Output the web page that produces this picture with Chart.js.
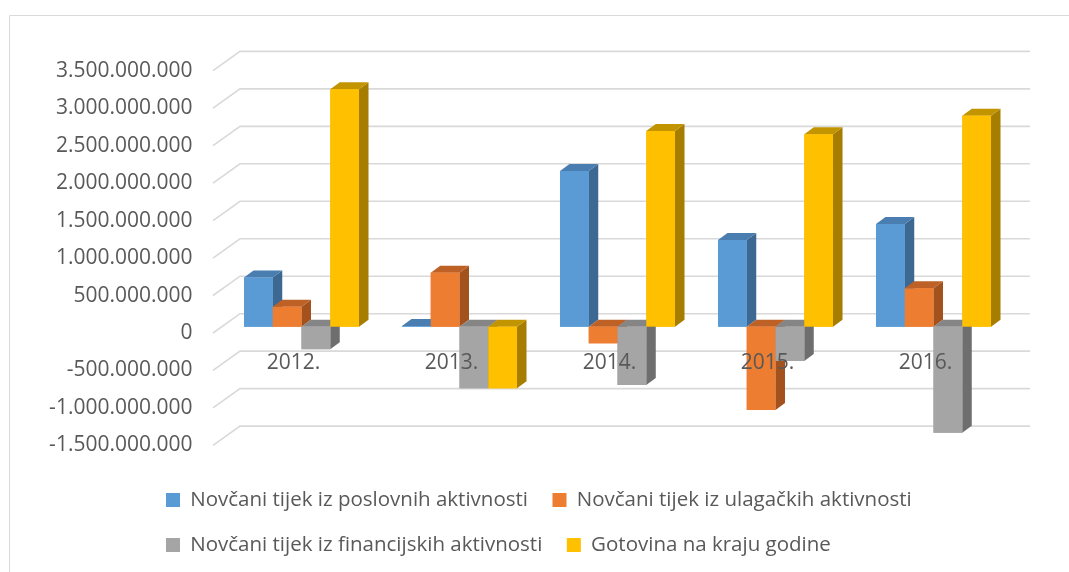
<!DOCTYPE html>
<html>
<head>
<meta charset="utf-8">
<script src="https://cdn.jsdelivr.net/npm/chart.js@4/dist/chart.umd.min.js"></script>
<style>
  body { margin: 0; background: #fff; }
  canvas { display: block; }
</style>
</head>
<body>
<canvas id="chart" width="1069" height="572"></canvas>
<script>
'use strict'

// Data

const years = ['2012.', '2013.', '2014.', '2015.', '2016.'];
const poslovne = [655000000, 8000000, 2078000000, 1157000000, 1370000000];
const ulagacke = [267000000, 721000000, -222000000, -1112000000, 512000000];
const financijske = [-300000000, -822000000, -778000000, -458000000, -1415000000];
const gotovina = [3168000000, -822000000, 2611000000, 2567000000, 2816000000];

const seriesNames = [
  'Novčani tijek iz poslovnih aktivnosti',
  'Novčani tijek iz ulagačkih aktivnosti',
  'Novčani tijek iz financijskih aktivnosti',
  'Gotovina na kraju godine'
];

const yMin = -1500000000;
const yMax = 3500000000;
const yStep = 500000000;

// Look

const textColor = '#595959';
const gridColor = '#d9d9d9';
const fontFamily = "'Open Sans', 'Noto Sans', sans-serif";

// front colour, side colour, top colour
const colors = [
  ['#5b9bd5', '#3d6891', '#4a7db0'],
  ['#ed7d31', '#a3521d', '#bd6126'],
  ['#a5a5a5', '#6e6e6e', '#858585'],
  ['#ffc000', '#a67d00', '#c29400']
];

// 3d offsets, relative to the plane the bars stand in
const barDepth = { dx: 9.5, dy: 7 };
const backWall = { dx: 17.5, dy: -13 };
const frontEdge = { dx: -9.5, dy: 6.3 };

function formatNumber(v) {
  let s = String(Math.abs(Math.round(v))).replace(/\B(?=(\d{3})+(?!\d))/g, '.');
  return v < 0 ? '-' + s : s;
}

function poly(ctx, pts, fill) {
  ctx.beginPath();
  ctx.moveTo(pts[0][0], pts[0][1]);
  for (let i = 1; i < pts.length; i++) {
    ctx.lineTo(pts[i][0], pts[i][1]);
  }
  ctx.closePath();
  ctx.fillStyle = fill;
  ctx.fill();
}

// frame + back wall gridlines
const wallPlugin = {
  id: 'wall',
  afterLayout(chart) {
    // let the long y labels run left of the padded area without being clipped
    chart.scales.y.left = 0;
  },
  beforeDraw(chart) {
    const ctx = chart.ctx;
    ctx.save();
    ctx.strokeStyle = gridColor;
    ctx.lineWidth = 1;
    ctx.beginPath();
    ctx.moveTo(9.5, chart.height);
    ctx.lineTo(9.5, 15.5);
    ctx.lineTo(chart.width, 15.5);
    ctx.stroke();
    ctx.restore();
  },
  beforeDatasetsDraw(chart) {
    const ctx = chart.ctx;
    const ys = chart.scales.y;
    const { left, right } = chart.chartArea;
    ctx.save();
    ctx.strokeStyle = gridColor;
    ctx.lineWidth = 1.6;
    ys.ticks.forEach(t => {
      const y = ys.getPixelForValue(t.value);
      ctx.beginPath();
      ctx.moveTo(left + frontEdge.dx, y + frontEdge.dy);
      ctx.lineTo(left + backWall.dx, y + backWall.dy);
      ctx.lineTo(right + backWall.dx, y + backWall.dy);
      ctx.stroke();
    });
    ctx.restore();
  }
};

// side and top faces, drawn bar by bar so the nearer ones cover the others
const boxPlugin = {
  id: 'box3d',
  afterDatasetsDraw(chart) {
    const ctx = chart.ctx;
    const dx = barDepth.dx;
    const dy = barDepth.dy;
    ctx.save();
    for (let i = 0; i < years.length; i++) {
      chart.data.datasets.forEach((ds, d) => {
        const bar = chart.getDatasetMeta(d).data[i];
        const p = bar.getProps(['x', 'y', 'base', 'width'], true);
        const l = p.x - p.width / 2;
        const r = p.x + p.width / 2;
        const top = Math.min(p.y, p.base);
        const bot = Math.max(p.y, p.base);
        poly(ctx, [[r, top], [r + dx, top - dy], [r + dx, bot - dy], [r, bot]], colors[d][1]);
        poly(ctx, [[l, top], [l + dx, top - dy], [r + dx, top - dy], [r, top]], colors[d][2]);
        ctx.fillStyle = colors[d][0];
        ctx.fillRect(l, top, r - l, bot - top);
      });
    }
    ctx.restore();
  }
};

const seriesData = [poslovne, ulagacke, financijske, gotovina];

const datasets = seriesData.map((vals, i) => ({
  label: seriesNames[i],
  data: vals,
  backgroundColor: colors[i][0],
  borderWidth: 0,
  barPercentage: 1,
  categoryPercentage: 0.728
}));

const config = {
  type: 'bar',
  data: { labels: years, datasets: datasets },
  options: {
    responsive: false,
    devicePixelRatio: 1,
    animation: false,
    layout: {
      padding: { left: 141.5, right: 56.5, top: 64.4, bottom: 6.75 }
    },
    plugins: {
      tooltip: { enabled: false },
      legend: {
        position: 'bottom',
        align: 'start',
        // empty title only keeps a gap between plot and legend
        title: {
          display: true,
          text: '',
          padding: 0,
          font: { size: 26.15, lineHeight: 1 }
        },
        labels: {
          boxWidth: 14,
          boxHeight: 14,
          padding: 24.5,
          color: textColor,
          font: { family: fontFamily, size: 20.5 }
        }
      }
    },
    scales: {
      x: {
        position: { y: 0 },
        grid: { display: false, drawTicks: false },
        border: { display: false },
        ticks: {
          z: 1,
          color: textColor,
          font: { family: fontFamily, size: 21 },
          padding: 24,
          labelOffset: -8,
          maxRotation: 0
        }
      },
      y: {
        min: yMin,
        max: yMax,
        grid: { display: false, drawTicks: false },
        border: { display: false },
        ticks: {
          stepSize: yStep,
          color: textColor,
          font: { family: fontFamily, size: 21 },
          padding: 30,
          labelOffset: 6.3,
          callback: v => formatNumber(v)
        },
        afterFit(scale) {
          scale.width = 81;
        }
      }
    }
  },
  plugins: [wallPlugin, boxPlugin]
};

const myChart = new Chart(document.getElementById('chart'), config);
</script>
</body>
</html>
